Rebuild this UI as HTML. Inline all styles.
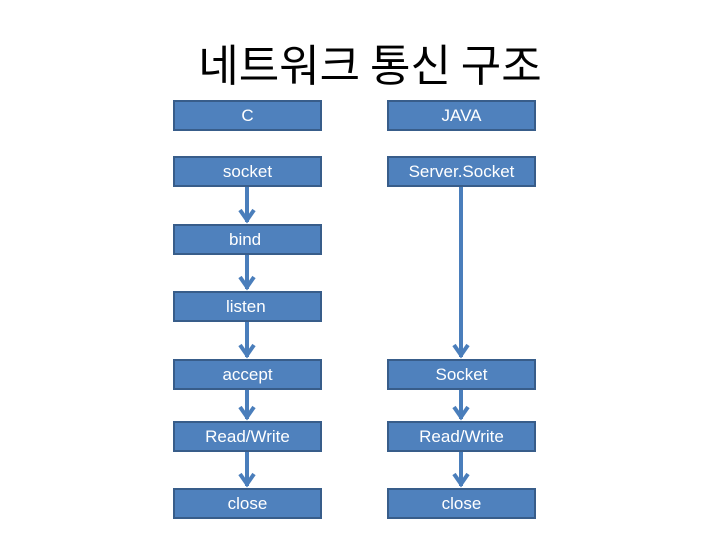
<!DOCTYPE html>
<html><head><meta charset="utf-8"><style>
body{margin:0;width:720px;height:540px;background:#fff;position:relative;overflow:hidden;font-family:"Liberation Sans","Noto Sans CJK KR",sans-serif}
.t{position:absolute;left:0;width:740px;top:32px;text-align:center;font-size:44px;color:#000;font-family:"Noto Sans CJK KR",sans-serif;line-height:60px}
.b{position:absolute;width:145px;height:27px;background:#4f81bd;border:2px solid #385d8a;color:#fff;font-size:17px;line-height:27px;text-align:center}
.l{left:173px}.r{left:387px}
svg{position:absolute;left:0;top:0}
</style></head><body>
<div class="t">네트워크 통신 구조</div>
<svg width="720" height="540">
<g stroke="#4a7ebb" stroke-width="4" fill="none">
<line x1="247" y1="186" x2="247" y2="222"/><polyline points="240,210 247,220 254,210"/>
<line x1="247" y1="254" x2="247" y2="289"/><polyline points="240,277 247,287 254,277"/>
<line x1="247" y1="321" x2="247" y2="357"/><polyline points="240,345 247,355 254,345"/>
<line x1="247" y1="389" x2="247" y2="419"/><polyline points="240,407 247,417 254,407"/>
<line x1="247" y1="451" x2="247" y2="486"/><polyline points="240,474 247,484 254,474"/>
<line x1="461" y1="186" x2="461" y2="357"/><polyline points="454,345 461,355 468,345"/>
<line x1="461" y1="389" x2="461" y2="419"/><polyline points="454,407 461,417 468,407"/>
<line x1="461" y1="451" x2="461" y2="486"/><polyline points="454,474 461,484 468,474"/>
</g></svg>
<div class="b l" style="top:100px">C</div>
<div class="b r" style="top:100px">JAVA</div>
<div class="b l" style="top:156px">socket</div>
<div class="b r" style="top:156px">Server.Socket</div>
<div class="b l" style="top:224px;text-align:left;padding-left:54px;width:91px">bind</div>
<div class="b l" style="top:291px;text-align:left;padding-left:51px;width:94px">listen</div>
<div class="b l" style="top:359px">accept</div>
<div class="b r" style="top:359px">Socket</div>
<div class="b l" style="top:421px">Read/Write</div>
<div class="b r" style="top:421px">Read/Write</div>
<div class="b l" style="top:488px">close</div>
<div class="b r" style="top:488px">close</div>
</body></html>
